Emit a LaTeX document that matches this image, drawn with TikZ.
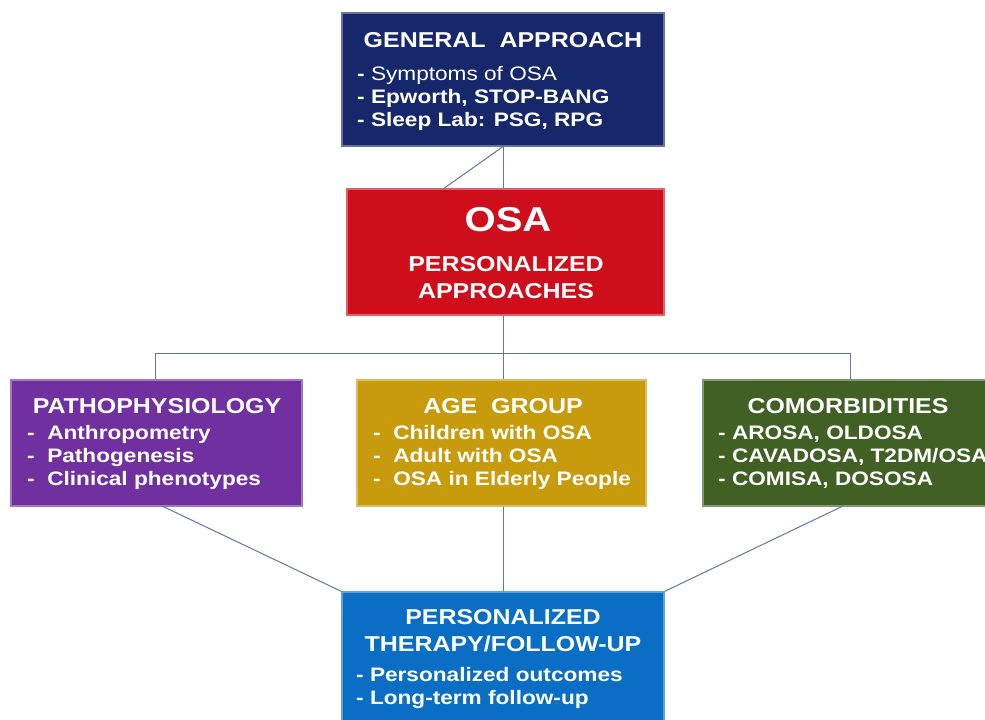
\documentclass[tikz,border=0pt]{standalone}
\usepackage{fontspec}
\setmainfont[FakeStretch=1.16]{Liberation Sans}
\definecolor{cnavy}{RGB}{22,40,107}
\definecolor{cred}{RGB}{206,14,26}
\definecolor{cpurple}{RGB}{112,48,160}
\definecolor{cgold}{RGB}{200,155,12}
\definecolor{cgreen}{RGB}{64,96,36}
\definecolor{cblue}{RGB}{10,110,196}
\definecolor{cline}{RGB}{96,118,165}
\begin{document}
\begin{tikzpicture}[x=1pt,y=-1pt,
  box/.style={draw=#1!65!white, line width=1.2pt, fill=#1, inner sep=0pt},
  conn/.style={draw=cline, line width=1pt},
  ttl/.style={text=white, font=\fontsize{21.5}{27}\selectfont\bfseries, align=center, inner sep=0pt},
  items/.style={text=white, font=\fontsize{19.5}{23}\selectfont\bfseries, align=left, anchor=west, inner sep=0pt}]
\useasboundingbox (0,0) rectangle (985,720);
\clip (0,0) rectangle (985,720);
% boxes
\node[box=cnavy, minimum width=322, minimum height=133] (gen) at (503,79.5) {};
\node[box=cred, minimum width=317, minimum height=126] (osa) at (505.5,252) {};
\node[box=cpurple, minimum width=291, minimum height=126] (pat) at (156.5,443) {};
\node[box=cgold, minimum width=289, minimum height=126] (age) at (501.5,443) {};
\node[box=cgreen, minimum width=290, minimum height=126] (com) at (848,443) {};
\node[box=cblue, minimum width=322, minimum height=140] (the) at (503,662) {};
% texts
\node[ttl] (genT) at (503,40) {GENERAL\ \ APPROACH};
\node[items] (genI) at (357,98) {- {\mdseries Symptoms of OSA}\\- Epworth, STOP-BANG\\- Sleep Lab: PSG, RPG};
\node[ttl, font=\fontsize{34.5}{40}\selectfont\bfseries] (osaT) at (508,220) {OSA};
\node[ttl] (osaS) at (506,278) {PERSONALIZED\\APPROACHES};
\node[ttl] (patT) at (157,406) {PATHOPHYSIOLOGY};
\node[items] (patI) at (27,457) {-\ \ Anthropometry\\-\ \ Pathogenesis\\-\ \ Clinical phenotypes};
\node[ttl] (ageT) at (503,406) {AGE\ \ GROUP};
\node[items] (ageI) at (373,457) {-\ \ Children with OSA\\-\ \ Adult with OSA\\-\ \ OSA in Elderly People};
\node[ttl] (comT) at (848,406) {COMORBIDITIES};
\node[items] (comI) at (718,457) {- AROSA, OLDOSA\\- CAVADOSA, T2DM/OSA\\- COMISA, DOSOSA};
\node[ttl] (theT) at (503,631) {PERSONALIZED\\THERAPY/FOLLOW-UP};
\node[items] (theI) at (356,687.5) {- Personalized outcomes\\- Long-term follow-up};
% connectors
\coordinate (d1) at (443,189);
\coordinate (hub) at (503,353);
\coordinate (hl) at (155,353);
\coordinate (hr) at (850,353);
\coordinate (pb) at (162,506);
\coordinate (cb) at (843,506);
\draw[conn] (gen.south) -- (gen.south |- osa.north);
\draw[conn] (gen.south) -- (d1);
\draw[conn] (hub |- osa.south) -- (hub |- age.north);
\draw[conn] (hl) -- (hr);
\draw[conn] (hl) -- (hl |- pat.north);
\draw[conn] (hr) -- (hr |- com.north);
\draw[conn] (pb) -- (the.north west);
\draw[conn] (hub |- age.south) -- (hub |- the.north);
\draw[conn] (cb) -- (the.north east);
\end{tikzpicture}
\end{document}
